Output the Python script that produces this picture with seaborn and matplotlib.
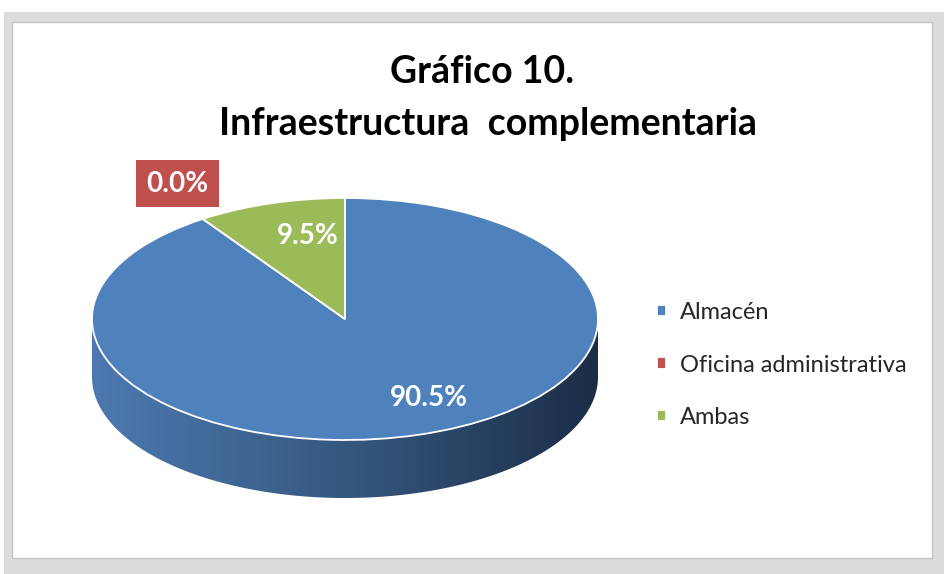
import numpy as np
import seaborn as sns
import matplotlib.pyplot as plt
from matplotlib.colors import LinearSegmentedColormap
from matplotlib.patches import Polygon, Rectangle

# Chart data
categories = ["Almacén", "Oficina administrativa", "Ambas"]
values = [90.5, 0.0, 9.5]
colors = ["#4f81bd", "#c0504d", "#9bbb59"]
title_lines = ["Gráfico 10.", "Infraestructura  complementaria"]

sns.set_theme(style="white")
plt.rcParams['font.family'] = ['Lato', 'DejaVu Sans']

W, H = 945, 574
fig = plt.figure(figsize=(W / 100, H / 100), dpi=100)

# Frame with a soft grey shadow like the Excel chart area
fig.patches.append(Rectangle((4 / W, 0), 941 / W, (H - 12) / H, transform=fig.transFigure,
                             facecolor='#dcdcdc', edgecolor='none', zorder=-10))
fig.patches.append(Rectangle((12 / W, 16 / H), 920 / W, 536 / H, transform=fig.transFigure,
                             facecolor='white', edgecolor='#c4c4c4', lw=1.0, zorder=-9))

# Pie axes: radius 1 -> ellipse 253 x 121 px, centred at (345, 319)
ax = fig.add_axes([(345 - 300) / W, 14 / H, 600 / W, 410 / H])
depth = 58 / 121

# Side wall of the 3D pie (front half is all "Almacén")
theta = np.linspace(np.pi, 2 * np.pi, 300)
top = np.column_stack([np.cos(theta), np.sin(theta)])
bottom = np.column_stack([np.cos(theta), np.sin(theta) - depth])[::-1]
side = Polygon(np.vstack([top, bottom]), closed=True, facecolor='none', edgecolor='none')
ax.add_patch(side)
side_cmap = LinearSegmentedColormap.from_list("side", ["#4d79b0", "#35587f", "#1c2d47"])
im = ax.imshow(np.linspace(0, 1, 256).reshape(1, -1), cmap=side_cmap, aspect='auto',
               extent=(-1, 1, -1 - depth, 0), zorder=1)
im.set_clip_path(side)

# Top face
wedges, texts, autotexts = ax.pie(
    values, labels=categories, labeldistance=None, colors=colors,
    startangle=90, counterclock=False, radius=1,
    autopct='%.1f%%', pctdistance=0.72,
    wedgeprops=dict(edgecolor='white', linewidth=1.3),
    textprops=dict(color='white', fontweight='bold', fontsize=20),
)
for w in wedges:
    w.set_zorder(2)
for t in autotexts:
    t.set_zorder(5)

# Nudge labels toward where the perspective view puts them
for w, t, shift, r in [(wedges[0], autotexts[0], 10, 0.73), (wedges[2], autotexts[2], -5, 0.70)]:
    mid = np.deg2rad((w.theta1 + w.theta2) / 2 + shift)
    t.set_position((r * np.cos(mid), r * np.sin(mid)))

# Zero slice label sits outside in a red box
t0 = np.deg2rad(wedges[1].theta1)
autotexts[1].set_position((1.18 * np.cos(t0), 1.35 * np.sin(t0)))
autotexts[1].set_bbox(dict(boxstyle='square,pad=0.38', facecolor=colors[1], edgecolor='none'))

ax.set_aspect('auto')
ax.set_xlim(-300 / 253, 300 / 253)
ax.set_ylim(-(560 - 319) / 121, (319 - 150) / 121)
ax.axis('off')

# Title
fig.text(482 / W, (H - 72) / H, title_lines[0], ha='center', va='center',
         fontsize=27, fontweight='bold', color='black')
fig.text(488 / W, (H - 124) / H, title_lines[1], ha='center', va='center',
         fontsize=27, fontweight='bold', color='black')

# Legend
fig.legend(wedges, categories, loc='center left', bbox_to_anchor=(636 / W, (H - 365) / H),
           bbox_transform=fig.transFigure, frameon=False, fontsize=17,
           handlelength=0.35, handleheight=0.35, handletextpad=0.6, labelspacing=1.32)

fig.savefig("out.png", dpi=100)
